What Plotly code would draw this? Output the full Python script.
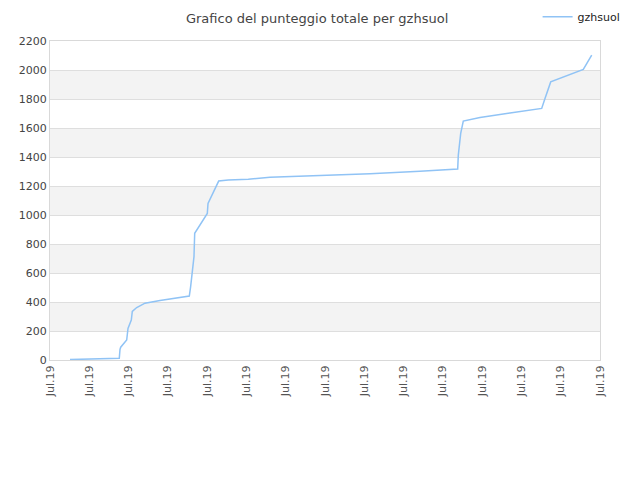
import plotly.graph_objects as go

# punteggio totale nel tempo
times = [
    "2019-07-01 12:13", "2019-07-02 03:30", "2019-07-02 18:20", "2019-07-02 18:46",
    "2019-07-02 19:12", "2019-07-02 22:51", "2019-07-02 23:39", "2019-07-03 01:40",
    "2019-07-03 02:17", "2019-07-03 04:58", "2019-07-03 10:02", "2019-07-03 19:12",
    "2019-07-04 04:19", "2019-07-04 13:06", "2019-07-04 13:55", "2019-07-04 14:34",
    "2019-07-04 15:10", "2019-07-04 15:58", "2019-07-04 16:24", "2019-07-04 19:38",
    "2019-07-05 00:06", "2019-07-05 00:32", "2019-07-05 03:46", "2019-07-05 07:03",
    "2019-07-05 12:55", "2019-07-06 01:09", "2019-07-06 14:24", "2019-07-07 20:57",
    "2019-07-09 03:29", "2019-07-10 10:02", "2019-07-11 03:20", "2019-07-11 09:04",
    "2019-07-11 09:26", "2019-07-11 10:54", "2019-07-11 12:29", "2019-07-11 22:41",
    "2019-07-12 17:01", "2019-07-13 12:23", "2019-07-13 14:24", "2019-07-13 17:53",
    "2019-07-14 13:48", "2019-07-14 18:56",
]
scores = [
    3, 10, 12, 73,
    88, 138, 218, 276,
    335, 362, 392, 410,
    425, 441, 506, 560,
    633, 713, 874, 931,
    1011, 1080, 1160, 1234,
    1241, 1246, 1260, 1271,
    1285, 1302, 1317, 1317,
    1413, 1563, 1648, 1673,
    1703, 1735, 1804, 1918,
    2004, 2103,
]

player = "gzhsuol"
y_ticks = list(range(0, 2201, 200))

fig = go.Figure(go.Scatter(
    x=times, y=scores, mode="lines", name=player,
    line=dict(color="#90c3f5", width=1.5),
))

# fasce grigie alternate
for lo in y_ticks[1:-1:2]:
    fig.add_shape(type="rect", xref="paper", yref="y", x0=0, x1=1,
                  y0=lo, y1=lo + 200, fillcolor="#f3f3f3", line_width=0,
                  layer="below")

fig.update_layout(
    width=640, height=480,
    title=dict(text="Grafico del punteggio totale per " + player,
               x=0.483, y=0.978, xanchor="center", yanchor="middle",
               font=dict(size=13, color="#444")),
    font=dict(family="DejaVu Sans", size=11, color="#444"),
    paper_bgcolor="white", plot_bgcolor="white",
    margin=dict(l=42, r=48, t=33, b=128, autoexpand=False),
    showlegend=True,
    legend=dict(xref="container", yref="container", x=0.965, y=0.982,
                xanchor="right", yanchor="middle", itemwidth=30,
                font=dict(size=11, color="#222"), bgcolor="rgba(0,0,0,0)"),
    xaxis=dict(
        type="date", range=["2019-07-01", "2019-07-15"],
        dtick=86400000, tick0="2019-07-01", tickformat="%b.%y",
        tickangle=-90, showgrid=False, zeroline=False, automargin=False,
        showline=True, linecolor="#d9d9d9", mirror=True,
        ticks="", tickfont=dict(size=11, color="#555"),
    ),
    yaxis=dict(
        range=[0, 2200], tickvals=y_ticks, showgrid=True, automargin=False,
        gridcolor="#dedede", zeroline=False,
        showline=True, linecolor="#d9d9d9", mirror=True,
        ticks="", tickfont=dict(size=11, color="#444"),
    ),
)

fig.write_html("out.html")
